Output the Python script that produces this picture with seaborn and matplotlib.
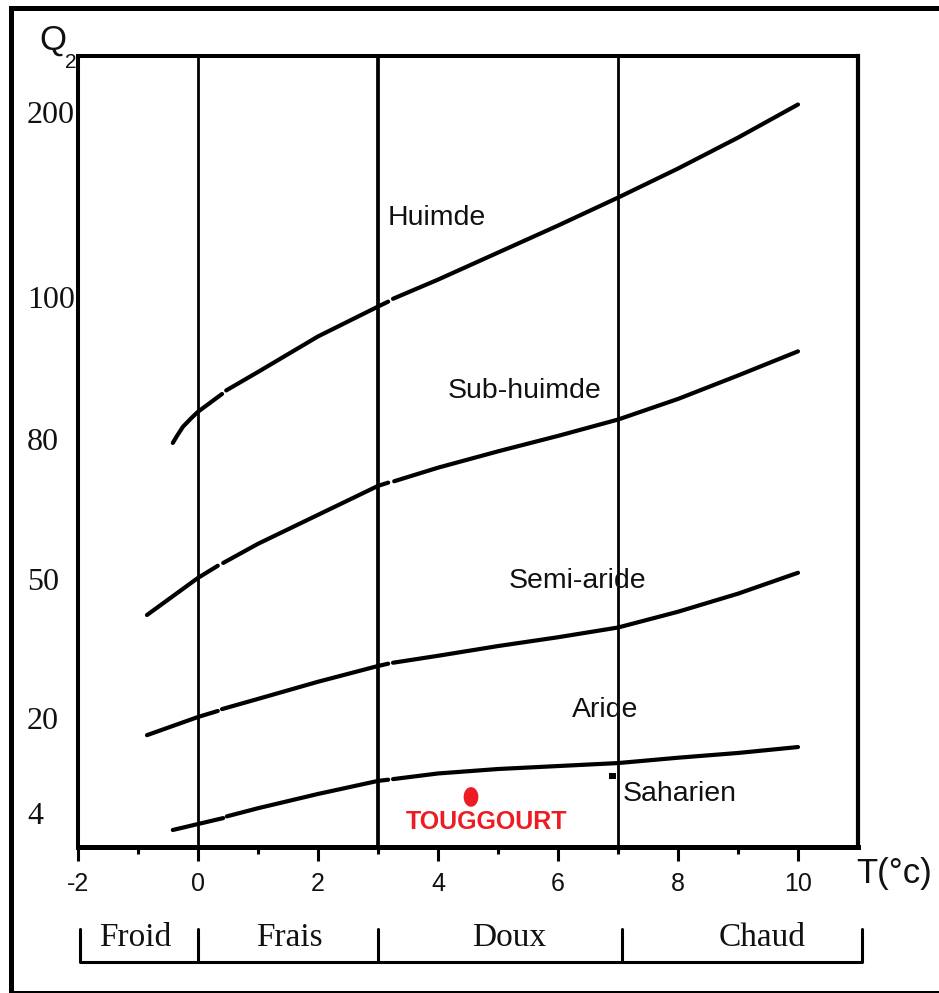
import numpy as np
import pandas as pd
import matplotlib
matplotlib.use("Agg")
import matplotlib.pyplot as plt
import seaborn as sns
from matplotlib.patches import Rectangle
from matplotlib.path import Path

# ---------------- data ----------------
# Emberger climagram boundary curves (T = m in °C, Q = Q2), split where the
# original drawing shows small gaps
humide_T = [[-0.42, -0.35, -0.25, -0.1, 0.0, 0.40], [0.47, 1, 2, 3, 3.17],
            [3.25, 4, 5, 6, 7, 8, 9, 10]]
humide_Q = [[79.1, 80.4, 81.7, 83.0, 83.8, 86.3], [86.8, 89.4, 94.4, 98.6, 99.3],
            [99.7, 109.2, 123.8, 138.4, 153.5, 169.2, 185.9, 203.8]]

subhumide_T = [[-0.85, 0.0, 0.33], [0.42, 1, 2, 3, 3.17], [3.27, 4, 5, 6, 7, 8, 9, 10]]
subhumide_Q = [[42.2, 50.2, 52.8], [53.4, 57.5, 63.7, 69.9, 70.6],
               [70.9, 73.8, 77.3, 80.4, 82.7, 85.6, 88.9, 92.3]]

semiaride_T = [[-0.85, 0.0, 0.33], [0.40, 1, 2, 3, 3.17], [3.25, 4, 5, 6, 7, 8, 9, 10]]
semiaride_Q = [[17.1, 20.2, 21.5], [21.9, 24.1, 27.8, 31.2, 31.7],
               [31.9, 33.4, 35.5, 37.4, 39.5, 42.9, 46.8, 51.3]]

aride_T = [[-0.42, 0.0, 0.42], [0.48, 1, 2, 3, 3.17], [3.25, 4, 5, 6, 7, 8, 9, 10]]
aride_Q = [[2.0, 2.7, 3.4], [3.6, 4.8, 7.2, 9.4, 9.6],
           [9.7, 10.65, 11.4, 11.9, 12.4, 13.3, 14.1, 15.1]]

# y axis: tick values and their (non-linear) relative positions on the axis
q_nodes = [0, 4, 20, 50, 80, 100, 200, 230]
q_pos = [0, 34, 129, 268, 408, 550, 735, 790.5]
y_ticks = [4, 20, 50, 80, 100, 200]
x_major = [-2, 0, 2, 4, 6, 8, 10]
x_minor = [-1, 1, 3, 5, 7, 9]

# thermal classes (winter temperature)
class_bounds = [0, 3, 7]
class_edges = [-1.97, 0, 3, 7.07, 11.07]
class_names = ["Froid", "Frais", "Doux", "Chaud"]
class_label_x = [-1.05, 1.53, 5.18, 9.4]

# bioclimatic zone labels
zone_names = ["Huimde", "Sub-huimde", "Semi-aride", "Aride", "Saharien"]

# station
station_name = "TOUGGOURT"
station_T = [4.55]
station_Q = [6.7]
mark_T = [6.91]
mark_Q = [10.2]

# ---------------- figure ----------------
sns.set_theme(style="white")
plt.rcParams["font.family"] = ["Liberation Sans", "DejaVu Sans"]

W, H = 939, 993
fig = plt.figure(figsize=(W / 100, H / 100), dpi=100)
fx = lambda px: px / W
fy = lambda py: 1 - py / H

ax = fig.add_axes([fx(78), fy(847), (858 - 78) / W, (847 - 56) / H])

def fwd(q):
    return np.interp(q, q_nodes, q_pos)

def inv(u):
    return np.interp(u, q_pos, q_nodes)

ax.set_yscale("function", functions=(fwd, inv))

rows = []
uid = 0
for name, Ts, Qs in [("humide", humide_T, humide_Q), ("subhumide", subhumide_T, subhumide_Q),
                     ("semiaride", semiaride_T, semiaride_Q), ("aride", aride_T, aride_Q)]:
    for tseg, qseg in zip(Ts, Qs):
        for t, q in zip(tseg, qseg):
            rows.append({"curve": name, "uid": uid, "T": t, "Q": q})
        uid += 1
df = pd.DataFrame(rows)

sns.lineplot(data=df, x="T", y="Q", units="uid", estimator=None, sort=False,
             color="black", linewidth=3.0, legend=False, ax=ax)

for b, lw in zip(class_bounds, [2.0, 2.7, 2.0]):
    ax.axvline(b, color="black", lw=lw, zorder=1)

theta = np.linspace(0, 2 * np.pi, 60)
ellipse = Path(np.column_stack([0.75 * np.cos(theta), np.sin(theta)]), closed=True)
sns.scatterplot(x=station_T, y=station_Q, color="#ED1C24", s=200, marker=ellipse,
                edgecolor="none", ax=ax, zorder=5)
sns.scatterplot(x=mark_T, y=mark_Q, color="black", s=22, marker="s",
                edgecolor="none", ax=ax, zorder=5)

ax.set_xlim(-2, 11)
ax.set_ylim(0, 230)
ax.set_xlabel("")
ax.set_ylabel("")

for side, lw in [("left", 2.9), ("top", 2.9), ("right", 3.0), ("bottom", 3.6)]:
    ax.spines[side].set_visible(True)
    ax.spines[side].set_color("black")
    ax.spines[side].set_linewidth(lw)

ax.set_xticks(x_major)
ax.set_xticklabels([str(v) for v in x_major])
ax.set_xticks(x_minor, minor=True)
ax.tick_params(axis="x", which="major", direction="out", length=10, width=2.2,
               color="black", pad=8, labelsize=18, bottom=True)
ax.tick_params(axis="x", which="minor", direction="out", length=5, width=2.2,
               color="black", bottom=True)
for lab in ax.get_xticklabels():
    lab.set_fontfamily(["Liberation Sans", "DejaVu Sans"])
    lab.set_color("#111111")

ax.set_yticks(y_ticks)
ax.set_yticklabels([str(v) for v in y_ticks])
ax.yaxis.set_minor_locator(matplotlib.ticker.NullLocator())
ax.tick_params(axis="y", which="both", length=0, pad=36.7, labelsize=23)
for lab in ax.get_yticklabels():
    lab.set_fontfamily(["Liberation Serif", "DejaVu Serif"])
    lab.set_ha("left")
    lab.set_color("#111111")

# class bracket under the axis
tr = ax.get_xaxis_transform()
yb, yt = (847 - 962) / 791, (847 - 929) / 791
ax.plot([class_edges[0], class_edges[-1]], [yb, yb], transform=tr, color="black",
        lw=2.2, clip_on=False, solid_capstyle="butt")
for e in class_edges:
    ax.plot([e, e], [yb, yt], transform=tr, color="black", lw=2.2, clip_on=False)
for name, xl in zip(class_names, class_label_x):
    ax.text(xl, (847 - 938) / 791, name, transform=tr, ha="center", va="center",
            fontsize=24, family=["Liberation Serif", "DejaVu Serif"], color="#111111")

# zone labels (pixel centres)
zone_px = [(437, 218), (525, 391), (577, 581), (605, 710), (680, 794)]
for name, (px, py) in zip(zone_names, zone_px):
    fig.text(fx(px), fy(py), name, ha="center", va="center", fontsize=20.5,
             color="#111111")

fig.text(fx(487), fy(822), station_name, ha="center", va="center", fontsize=18,
         fontweight="bold", color="#ED1C24")

# axis titles
fig.text(fx(39), fy(50), "Q", ha="left", va="baseline", fontsize=25, color="#111111")
fig.text(fx(65), fy(68), "2", ha="left", va="baseline", fontsize=15, color="#111111")
fig.text(fx(856), fy(873), "T(°c)", ha="left", va="center", fontsize=25, color="#111111")

# outer frame
fig.add_artist(Rectangle((fx(10.5), fy(993)), (950 - 10.5) / W, (993 - 7.5) / H,
                         transform=fig.transFigure, fill=False, lw=3.6,
                         edgecolor="black"))

fig.savefig("out.png", dpi=100)
